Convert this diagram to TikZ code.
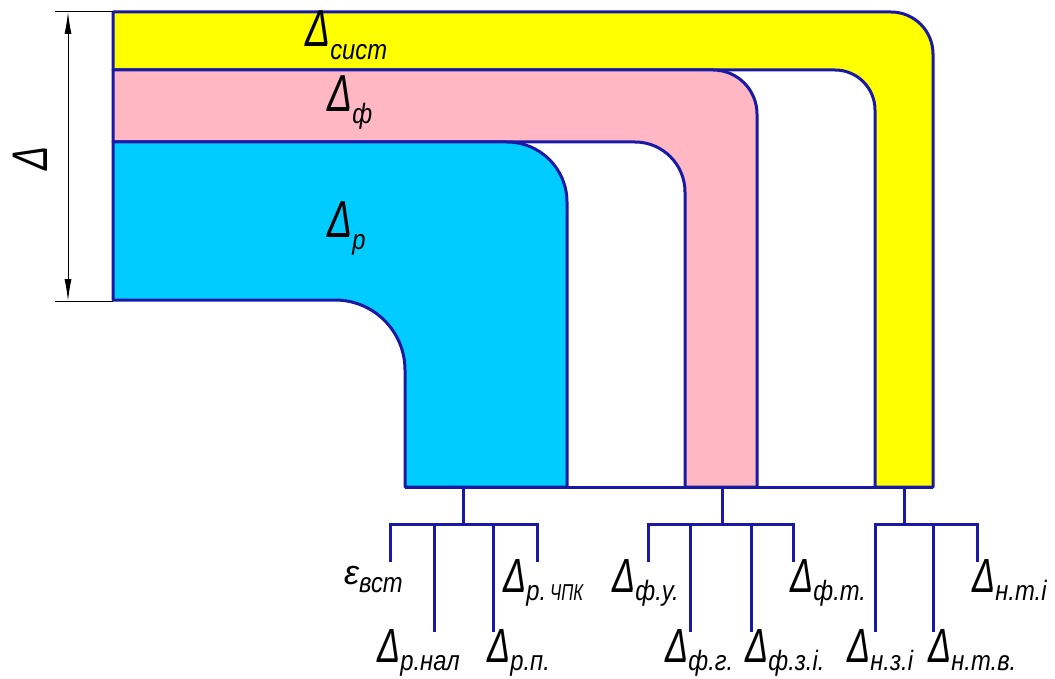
\documentclass[tikz,border=0pt]{standalone}
\usepackage{fontspec}
\setmainfont{Liberation Sans}
\usetikzlibrary{arrows.meta}
\definecolor{ln}{RGB}{25,25,165}
\definecolor{yel}{RGB}{255,255,0}
\definecolor{pnk}{RGB}{255,183,196}
\definecolor{cyn}{RGB}{0,204,255}
\newcommand{\Dl}[1][48]{{\fontsize{#1}{#1}\selectfont\scalebox{0.72}[1]{Δ}}}
\newcommand{\Sb}[2][8]{\raisebox{-#1pt}{\fontsize{28}{28}\selectfont\scalebox{0.85}[1]{#2}}}
\begin{document}
\begin{tikzpicture}[x=1pt,y=-1pt,
  band/.style={draw=ln, line width=3pt, line join=round},
  tree/.style={draw=ln, line width=3pt},
  lab/.style={anchor=base west, inner sep=0pt, font=\itshape},
  dim/.style={draw=black, line width=1pt}]
\useasboundingbox (0,0) rectangle (1055,679);
% bands
\path[band, fill=yel] (113,12) -- (891,12) .. controls (914.2,12) and (933,30.8) .. (933,54)
  -- (933,487) -- (875,487) -- (875,110) .. controls (875,87.9) and (857.1,70) .. (835,70)
  -- (113,70) -- cycle;
\path[band, fill=pnk] (113,70) -- (713,70) .. controls (737.3,70) and (757,89.7) .. (757,114)
  -- (757,487) -- (685,487) -- (685,192) .. controls (685,164.4) and (662.6,142) .. (635,142)
  -- (113,142) -- cycle;
\path[band, fill=cyn] (113,142) -- (507,142) .. controls (540.1,142) and (567,168.9) .. (567,202)
  -- (567,487) -- (405,487) -- (405,370) .. controls (405,331.3) and (373.7,300) .. (335,300)
  -- (113,300) -- cycle;
\coordinate (bl) at (405,487);
\coordinate (br) at (933,487);
\draw[band] (bl) -- (br);
% band labels
\node[lab] (lsist) at (305,47) {\Dl[52]\Sb[13]{сист}};
\node[lab] (lf) at (327,112) {\Dl[52]\Sb[12]{ф}};
\node[lab] (lr) at (327,238) {\Dl[52]\Sb[12]{р}};
% dimension
\coordinate (e1a) at (55,12);  \coordinate (e1b) at (113,12);
\coordinate (e2a) at (55,301); \coordinate (e2b) at (113,301);
\coordinate (dt) at (68,12); \coordinate (db) at (68,301);
\draw[dim] (e1a) -- (e1b);
\draw[dim] (e2a) -- (e2b);
\draw[dim, {Latex[length=22pt,width=7pt]}-{Latex[length=22pt,width=7pt]}] (dt) -- (db);
\node[inner sep=0pt, rotate=90, font=\itshape] (ldim) at (30,158) {\Dl[50]};
% tree 1
\coordinate (s1) at (463,487); \coordinate (j1) at (463,524);
\coordinate (a1) at (390,562); \coordinate (a2) at (434,632);
\coordinate (a3) at (493,632); \coordinate (a4) at (537,562);
\draw[tree] (s1) -- (j1);
\draw[tree] (j1) -| (a1);
\draw[tree] (j1) -| (a2);
\draw[tree] (j1) -| (a3);
\draw[tree] (j1) -| (a4);
\node[lab] (t1) at (344,584) {{\fontsize{34}{34}\selectfont ε}\Sb[8]{вст}};
\node[lab] (t2) at (377,662) {\Dl\Sb{р.нал}};
\node[lab] (t3) at (487,662) {\Dl\Sb{р.п.}};
\node[lab] (t4) at (503,592) {\Dl\Sb{р.\,{\fontsize{23}{23}\selectfont\scalebox{0.85}[1]{ЧПК}}}};
% tree 2
\coordinate (s2) at (722,487); \coordinate (j2) at (722,524);
\coordinate (b1) at (648,562); \coordinate (b2) at (690,632);
\coordinate (b3) at (751,632); \coordinate (b4) at (793,562);
\draw[tree] (s2) -- (j2);
\draw[tree] (j2) -| (b1);
\draw[tree] (j2) -| (b2);
\draw[tree] (j2) -| (b3);
\draw[tree] (j2) -| (b4);
\node[lab] (u1) at (612,592) {\Dl\Sb{ф.у.}};
\node[lab] (u2) at (665,662) {\Dl\Sb{ф.г.}};
\node[lab] (u3) at (745,662) {\Dl\Sb{ф.з.і.}};
\node[lab] (u4) at (790,592) {\Dl\Sb{ф.т.}};
% tree 3
\coordinate (s3) at (904,487); \coordinate (j3) at (904,524);
\coordinate (c1) at (875,632); \coordinate (c2) at (933,632);
\coordinate (c3) at (977,562);
\draw[tree] (s3) -- (j3);
\draw[tree] (j3) -| (c1);
\draw[tree] (j3) -| (c2);
\draw[tree] (j3) -| (c3);
\node[lab] (v1) at (847,662) {\Dl\Sb{н.з.і}};
\node[lab] (v2) at (928,662) {\Dl\Sb{н.т.в.}};
\node[lab] (v3) at (972,592) {\Dl\Sb{н.т.і}};
\end{tikzpicture}
\end{document}
